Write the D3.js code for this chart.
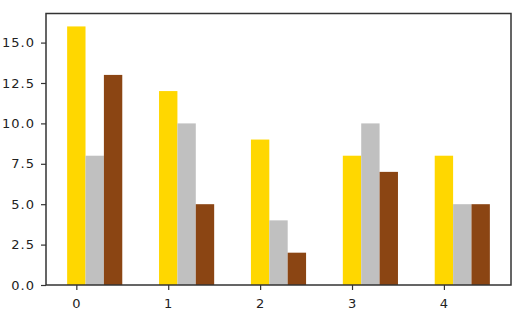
<!DOCTYPE html>
<html>
<head>
<meta charset="utf-8">
<script src="https://cdn.jsdelivr.net/npm/d3@7"></script>
<style>
  body { margin: 0; background: #fff; }
</style>
</head>
<body>
<div id="chart"></div>
<script>
// data
var categories = [0, 1, 2, 3, 4];
var seriesA = [16, 12, 9, 8, 8];   // gold
var seriesB = [8, 10, 4, 10, 5];   // silver
var seriesC = [13, 5, 2, 7, 5];    // brown
var yTicks = [0, 2.5, 5, 7.5, 10, 12.5, 15];

var width = 519, height = 319;
var margin = {top: 13.5, left: 46, right: 8, bottom: 34};
var colors = ["#FFD700", "#C0C0C0", "#8B4513"];
var barW = 0.2;

var series = [seriesA, seriesB, seriesC];

var x = d3.scaleLinear()
    .domain([-0.33, 4.73])
    .range([margin.left, width - margin.right]);
var y = d3.scaleLinear()
    .domain([0, 16.8])
    .range([height - margin.bottom, margin.top]);

var svg = d3.select("#chart").append("svg")
    .attr("width", width)
    .attr("height", height);

// bars
series.forEach(function (s, k) {
  svg.append("g").selectAll("rect")
      .data(s)
    .enter().append("rect")
      .attr("x", function (d, i) { return x(categories[i] + k * barW - barW / 2); })
      .attr("y", function (d) { return y(d); })
      .attr("width", function (d, i) { return x(categories[i] + barW) - x(categories[i]); })
      .attr("height", function (d) { return y(0) - y(d); })
      .attr("fill", colors[k]);
});

// axes
var fmt = d3.format(".1f");
var yAxis = svg.append("g")
    .attr("transform", "translate(" + margin.left + ",0)")
    .call(d3.axisLeft(y).tickValues(yTicks).tickFormat(fmt).tickSize(5).tickPadding(6));
var xAxis = svg.append("g")
    .attr("transform", "translate(0," + (height - margin.bottom) + ")")
    .call(d3.axisBottom(x).tickValues(categories).tickFormat(d3.format("d")).tickSize(5).tickPadding(9));

[xAxis, yAxis].forEach(function (a) {
  a.select(".domain").remove();
  a.selectAll("line").attr("stroke", "#333").attr("stroke-width", 1.2);
  a.selectAll("text")
      .attr("fill", "#222")
      .attr("font-family", "'DejaVu Sans', sans-serif")
      .attr("font-size", "13px")
      .attr("letter-spacing", "1px");
});

// frame
svg.append("rect")
    .attr("x", margin.left)
    .attr("y", margin.top)
    .attr("width", width - margin.left - margin.right)
    .attr("height", height - margin.top - margin.bottom)
    .attr("fill", "none")
    .attr("stroke", "#333")
    .attr("stroke-width", 1.5);
</script>
</body>
</html>
